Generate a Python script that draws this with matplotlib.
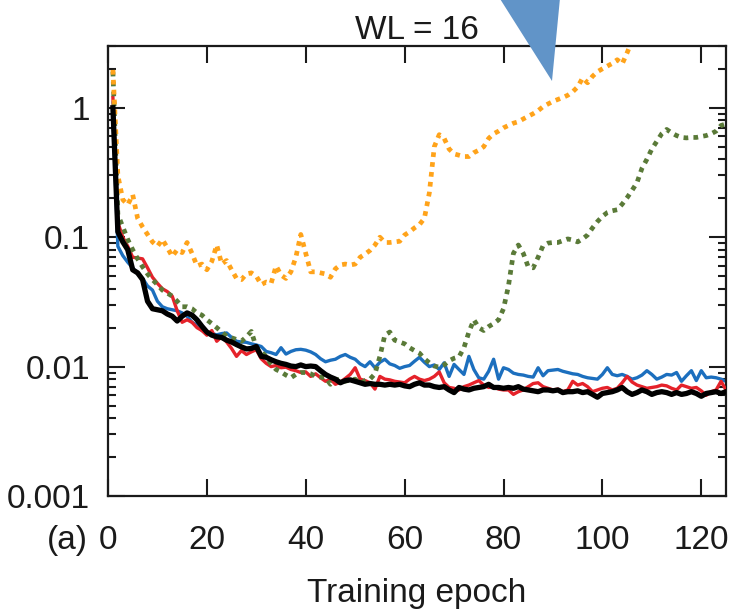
import matplotlib
matplotlib.use("Agg")
import matplotlib.pyplot as plt
from matplotlib.patches import Polygon
from matplotlib.ticker import FixedLocator, FixedFormatter, LogLocator, NullFormatter, NullLocator

plt.rcParams['font.family'] = ['Liberation Sans', 'DejaVu Sans']

# Loss per training epoch for each configuration
epochs = list(range(1, 126))

loss_blue = [
    0.9, 0.085, 0.072, 0.064, 0.058, 0.052, 0.048, 0.042, 0.039, 0.032,
    0.029, 0.028, 0.0275, 0.027, 0.026, 0.0245, 0.022, 0.021, 0.019, 0.0185,
    0.018, 0.0176, 0.018, 0.0182, 0.0168, 0.0157, 0.0155, 0.0154, 0.0150, 0.0147,
    0.0143, 0.0131, 0.0128, 0.0124, 0.0140, 0.0125, 0.0131, 0.0135, 0.0136, 0.0134,
    0.0130, 0.0124, 0.0115, 0.0109, 0.0112, 0.0114, 0.0120, 0.0124, 0.0118, 0.0114,
    0.0105, 0.0100, 0.0109, 0.0098, 0.0108, 0.0114, 0.0105, 0.0102, 0.0097, 0.0100,
    0.0102, 0.0110, 0.0118, 0.0108, 0.0100, 0.0103, 0.0095, 0.0107, 0.0084, 0.0104,
    0.0095, 0.0087, 0.0120, 0.0095, 0.0082, 0.0080, 0.0092, 0.0114, 0.0080, 0.0098,
    0.0095, 0.0089, 0.0087, 0.0086, 0.0084, 0.0083, 0.0098, 0.0085, 0.0093, 0.0094,
    0.0095, 0.0092, 0.0090, 0.0088, 0.0087, 0.0084, 0.0082, 0.0081, 0.0080, 0.0087,
    0.0098, 0.0087, 0.0085, 0.0087, 0.0084, 0.0080, 0.0082, 0.0086, 0.0093, 0.0087,
    0.0080, 0.0083, 0.0087, 0.0086, 0.0090, 0.0077, 0.0085, 0.0093, 0.0078, 0.0093,
    0.0082, 0.0083, 0.0082, 0.0080, 0.0077,
]

loss_red = [
    1.2, 0.13, 0.10, 0.085, 0.070, 0.069, 0.068, 0.058, 0.049, 0.044,
    0.040, 0.038, 0.035, 0.027, 0.022, 0.023, 0.022, 0.020, 0.019, 0.0175,
    0.019, 0.0157, 0.017, 0.0155, 0.0138, 0.0120, 0.0133, 0.0124, 0.0130, 0.0135,
    0.0115, 0.0106, 0.0100, 0.0102, 0.0098, 0.0099, 0.0095, 0.0093, 0.0090, 0.0091,
    0.0084, 0.0088, 0.0082, 0.0077, 0.0080, 0.0073, 0.0076, 0.0081, 0.0087, 0.0098,
    0.0080, 0.0078, 0.0075, 0.0067, 0.0084, 0.0080, 0.0079, 0.0077, 0.0076, 0.0075,
    0.0080, 0.0084, 0.0080, 0.0078, 0.0080, 0.0084, 0.0091, 0.0075, 0.0069, 0.0068,
    0.0066, 0.0070, 0.0072, 0.0075, 0.0078, 0.0072, 0.0069, 0.0070, 0.0067, 0.0066,
    0.0066, 0.0061, 0.0064, 0.0066, 0.0070, 0.0074, 0.0075, 0.0070, 0.0068, 0.0066,
    0.0067, 0.0064, 0.0066, 0.0077, 0.0072, 0.0074, 0.0070, 0.0064, 0.0066, 0.0068,
    0.0069, 0.0066, 0.0068, 0.0075, 0.0084, 0.0076, 0.0072, 0.0070, 0.0068, 0.0069,
    0.0070, 0.0072, 0.0071, 0.0068, 0.0066, 0.0072, 0.0070, 0.0068, 0.0069, 0.0065,
    0.0060, 0.0064, 0.0066, 0.0077, 0.0066,
]

loss_black = [
    1.0, 0.11, 0.092, 0.080, 0.056, 0.053, 0.047, 0.032, 0.028, 0.0275,
    0.027, 0.0255, 0.0245, 0.0225, 0.0245, 0.026, 0.025, 0.023, 0.0205, 0.0185,
    0.0175, 0.017, 0.0168, 0.016, 0.0155, 0.0148, 0.0142, 0.0137, 0.0138, 0.0143,
    0.0120, 0.0118, 0.0113, 0.0109, 0.0106, 0.0104, 0.0101, 0.0100, 0.0103, 0.0100,
    0.0101, 0.0100, 0.0093, 0.0087, 0.0083, 0.0080, 0.0075, 0.0078, 0.0079, 0.0077,
    0.0075, 0.0073, 0.0074, 0.0073, 0.0073, 0.0072, 0.0073, 0.0072, 0.0073, 0.0071,
    0.0070, 0.0073, 0.0075, 0.0072, 0.0072, 0.0070, 0.0069, 0.0070, 0.0066, 0.0063,
    0.0069, 0.0067, 0.0066, 0.0068, 0.0069, 0.0070, 0.0073, 0.0069, 0.0069, 0.0068,
    0.0069, 0.0068, 0.0070, 0.0067, 0.0066, 0.0065, 0.0064, 0.0066, 0.0066, 0.0065,
    0.0066, 0.0063, 0.0064, 0.0064, 0.0065, 0.0063, 0.0064, 0.0061, 0.0058, 0.0062,
    0.0063, 0.0064, 0.0066, 0.0069, 0.0064, 0.0061, 0.0063, 0.0066, 0.0064, 0.0061,
    0.0063, 0.0064, 0.0063, 0.0061, 0.0063, 0.0061, 0.0062, 0.0064, 0.0062, 0.0059,
    0.0062, 0.0063, 0.0064, 0.0062, 0.0064,
]

loss_green = [
    1.9, 0.15, 0.12, 0.096, 0.080, 0.068, 0.059, 0.052, 0.047, 0.043,
    0.039, 0.037, 0.035, 0.032, 0.029, 0.029, 0.028, 0.026, 0.025, 0.023,
    0.0215, 0.020, 0.0185, 0.0172, 0.0167, 0.0162, 0.0157, 0.0170, 0.0187, 0.0140,
    0.0130, 0.0120, 0.0104, 0.0095, 0.0091, 0.0086, 0.0082, 0.0087, 0.0090, 0.0090,
    0.0088, 0.0084, 0.0083, 0.0082, 0.0073, 0.0079, 0.0080, 0.0077, 0.0079, 0.0080,
    0.0074, 0.0078, 0.0080, 0.0088, 0.0120, 0.0175, 0.0185, 0.0160, 0.0155, 0.0150,
    0.0140, 0.0133, 0.0127, 0.0115, 0.0107, 0.0101, 0.0099, 0.0103, 0.0111, 0.0116,
    0.0119, 0.0140, 0.0185, 0.023, 0.020, 0.0190, 0.0204, 0.0215, 0.023, 0.028,
    0.042, 0.075, 0.087, 0.075, 0.059, 0.058, 0.070, 0.086, 0.090, 0.091,
    0.091, 0.094, 0.097, 0.095, 0.092, 0.097, 0.104, 0.118, 0.132, 0.145,
    0.155, 0.160, 0.163, 0.180, 0.202, 0.23, 0.264, 0.34, 0.40, 0.48,
    0.55, 0.63, 0.68, 0.64, 0.61, 0.59, 0.585, 0.59, 0.59, 0.60,
    0.61, 0.63, 0.66, 0.73, 0.75,
]

epochs_orange = list(range(1, 107))
loss_orange = [
    1.96, 0.30, 0.195, 0.178, 0.213, 0.14, 0.12, 0.105, 0.092, 0.085,
    0.096, 0.083, 0.071, 0.080, 0.076, 0.091, 0.075, 0.060, 0.062, 0.056,
    0.065, 0.087, 0.062, 0.066, 0.056, 0.048, 0.047, 0.052, 0.053, 0.050,
    0.043, 0.045, 0.044, 0.060, 0.051, 0.048, 0.054, 0.070, 0.105, 0.075,
    0.054, 0.054, 0.053, 0.052, 0.049, 0.057, 0.061, 0.062, 0.061, 0.062,
    0.070, 0.074, 0.079, 0.087, 0.100, 0.091, 0.091, 0.092, 0.093, 0.104,
    0.110, 0.118, 0.125, 0.140, 0.22, 0.50, 0.62, 0.58, 0.48, 0.44,
    0.43, 0.42, 0.42, 0.45, 0.47, 0.50, 0.58, 0.63, 0.66, 0.70,
    0.73, 0.76, 0.78, 0.82, 0.86, 0.90, 0.95, 1.02, 1.07, 1.12,
    1.16, 1.20, 1.25, 1.33, 1.45, 1.70, 1.56, 1.75, 1.90, 2.0,
    2.1, 2.2, 2.35, 2.18, 2.66, 3.3,
]

x_ticks = [0, 20, 40, 60, 80, 100, 120]
y_ticks = [0.001, 0.01, 0.1, 1]
y_tick_labels = ["0.001", "0.01", "0.1", "1"]

fig = plt.figure(figsize=(7.36, 6.12), dpi=100)
ax = fig.add_axes([0.1467, 0.1895, 0.8397, 0.7353])

ax.plot(epochs, loss_blue, color="#1c6fbe", lw=2.4, zorder=2)
ax.plot(epochs, loss_red, color="#e5222a", lw=2.4, zorder=3)
ax.plot(epochs, loss_green, color="#5a7a38", lw=3.4, ls=(0, (1, 1.1)),
        dash_capstyle="butt", zorder=4)
ax.plot(epochs_orange, loss_orange, color="#ffa31a", lw=3.4, ls=(0, (1, 1.1)),
        dash_capstyle="butt", zorder=4)
ax.plot(epochs, loss_black, color="black", lw=3.8, zorder=5)

ax.set_yscale("log")
ax.set_xlim(0, 125)
ax.set_ylim(0.001, 3.0)

ax.xaxis.set_major_locator(FixedLocator(x_ticks))
ax.xaxis.set_minor_locator(NullLocator())
ax.yaxis.set_major_locator(FixedLocator(y_ticks))
ax.yaxis.set_major_formatter(FixedFormatter(y_tick_labels))
ax.yaxis.set_minor_locator(LogLocator(base=10, subs=range(2, 10)))
ax.yaxis.set_minor_formatter(NullFormatter())

ax.tick_params(which="both", direction="in", top=True, right=True,
               labelsize=24, width=1.5, colors="#1a1a1a")
ax.tick_params(axis="x", which="major", length=12, pad=21)
ax.tick_params(axis="y", which="major", length=12, pad=13)
ax.tick_params(which="minor", length=6)

for s in ax.spines.values():
    s.set_linewidth(1.6)
    s.set_color("#1a1a1a")

ax.set_title("WL = 16", fontsize=24, pad=5, color="#1a1a1a")
ax.set_xlabel("Training epoch", fontsize=24, labelpad=16, color="#1a1a1a")

fig.text(67 / 736, 1 - 541 / 612, "(a)", fontsize=24, ha="center", va="center",
         color="#1a1a1a")

# Pointer marker above the plot
tri = Polygon([(493 / 736, 1.02), (561 / 736, 1.02), (552 / 736, 1 - 81 / 612)],
              closed=True, transform=fig.transFigure, facecolor="#6194c8",
              edgecolor="none", zorder=10)
fig.patches.append(tri)

fig.savefig("out.png", dpi=100)
